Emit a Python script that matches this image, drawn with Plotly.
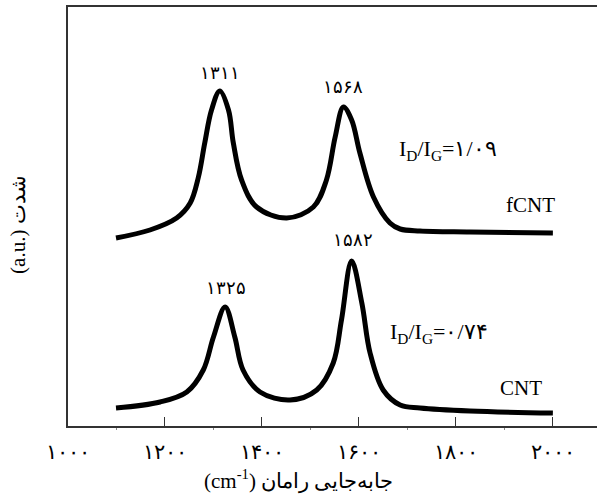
import plotly.graph_objects as go

# Raman spectra (wavenumber, intensity a.u.)
fcnt_x = [1099, 1169, 1224, 1252, 1269, 1282, 1296, 1313, 1331, 1341, 1358, 1389, 1451,
          1506, 1533, 1551, 1568, 1585, 1602, 1630, 1664, 1685, 1726, 1829, 2000]
fcnt_y = [188, 196, 208, 223, 249, 283, 316, 335, 316, 283, 246, 219, 208,
          219, 246, 289, 319, 306, 273, 229, 203, 197, 195, 194, 193]

cnt_x = [1099, 1190, 1245, 1279, 1300, 1324, 1344, 1361, 1396, 1458, 1513, 1547, 1564,
         1585, 1606, 1623, 1650, 1685, 1726, 1829, 2000]
cnt_y = [18, 24, 34, 56, 89, 119, 89, 56, 34, 26, 36, 63, 106,
         165, 123, 73, 36, 21, 18, 15, 13]

tick_vals = [1000, 1200, 1400, 1600, 1800, 2000]
tick_text = ["۱۰۰۰", "۱۲۰۰", "۱۴۰۰", "۱۶۰۰", "۱۸۰۰", "۲۰۰۰"]

peak_labels = ["۱۳۱۱", "۱۵۶۸", "۱۵۸۲", "۱۳۲۵"]
peak_pos = [(1313, 353), (1567, 339), (1588, 186), (1326, 138)]

serif = "Liberation Serif, Times New Roman, DejaVu Serif, serif"

fig = go.Figure()
for xs, ys in [(fcnt_x, fcnt_y), (cnt_x, cnt_y)]:
    fig.add_trace(go.Scatter(x=xs, y=ys, mode="lines",
                             line=dict(color="black", width=5, shape="spline", smoothing=1.0),
                             showlegend=False, hoverinfo="skip"))

for txt, (px, py) in zip(peak_labels, peak_pos):
    fig.add_annotation(x=px, y=py, text=txt, showarrow=False,
                       font=dict(size=18, family=serif, color="black"))

fig.add_annotation(x=1678, y=276, xanchor="left", text="I<sub>D</sub>/I<sub>G</sub>=۱/۰۹",
                   showarrow=False, font=dict(size=22, family=serif, color="black"))
fig.add_annotation(x=1660, y=93, xanchor="left", text="I<sub>D</sub>/I<sub>G</sub>=۰/۷۴",
                   showarrow=False, font=dict(size=22, family=serif, color="black"))
fig.add_annotation(x=1953, y=221, text="fCNT", showarrow=False,
                   font=dict(size=21, family=serif, color="black"))
fig.add_annotation(x=1934, y=38, text="CNT", showarrow=False,
                   font=dict(size=21, family=serif, color="black"))

# axis titles
fig.add_annotation(xref="paper", yref="paper", x=0.435, y=0, yanchor="middle", yshift=-54,
                   text="(cm<sup>-1</sup>) جابه‌جایی رامان", showarrow=False,
                   font=dict(size=21, family=serif, color="black"))
fig.add_annotation(xref="paper", yref="paper", x=0, y=0.48, xanchor="center", xshift=-50,
                   textangle=-90, text="(a.u.) شدت", showarrow=False,
                   font=dict(size=21, family=serif, color="black"))

fig.update_layout(
    width=597, height=498,
    margin=dict(l=68, r=0, t=7, b=72),
    paper_bgcolor="white", plot_bgcolor="white",
    font=dict(family=serif, color="black"),
    xaxis=dict(range=[1000, 2091], tickvals=tick_vals, ticktext=tick_text,
               ticks="inside", ticklen=9, tickcolor="#333", tickwidth=1,
               showline=True, linecolor="#333", linewidth=1.5, mirror=True,
               showgrid=False, zeroline=False, automargin=False,
               tickfont=dict(size=21, family=serif), ticklabelstandoff=6,
               minor=dict(tickvals=[1100, 1300, 1500, 1700, 1900], ticks="outside",
                          ticklen=2, tickcolor="#888")),
    yaxis=dict(range=[0, 419], showticklabels=False, ticks="", showgrid=False,
               zeroline=False, showline=True, linecolor="#333", linewidth=1.5,
               automargin=False),
)

fig.write_html("out.html", config={"displayModeBar": False},
               post_script="document.body.style.margin='0';document.body.style.overflow='hidden';")
